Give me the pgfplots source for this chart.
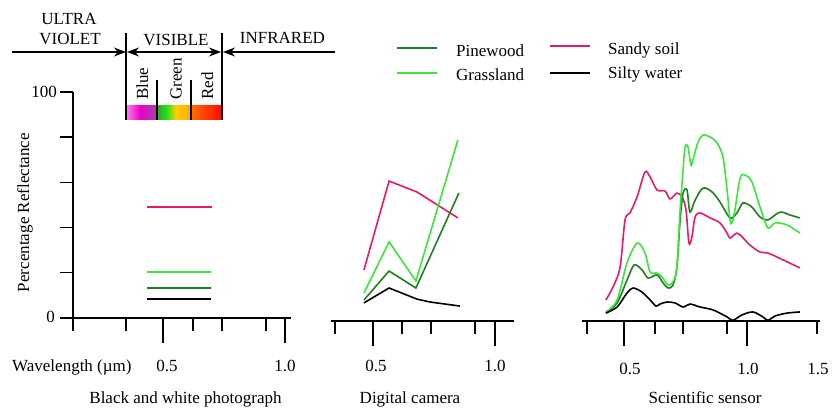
\documentclass[border=0pt]{standalone}
\usepackage{fontspec}
\setmainfont{Liberation Serif}
\usepackage{pgfplots}
\pgfplotsset{compat=1.18}
\usetikzlibrary{arrows.meta}
\definecolor{pine}{RGB}{30,128,30}
\definecolor{grass}{RGB}{60,230,60}
\definecolor{sandy}{RGB}{230,25,110}
\begin{document}
\begin{tikzpicture}[font=\fontsize{17bp}{20bp}\selectfont]
\path[use as bounding box] (0,0) rectangle (832bp,409bp);
\pgfplotsset{panel/.style={scale only axis, height=226bp, ymin=0, ymax=100, clip=false,
  anchor=south west, axis x line*=bottom, tick align=outside,
  major tick length=25bp, minor tick length=13bp,
  axis line style={line width=1.4bp, black},
  major tick style={line width=1.4bp, black}, minor tick style={line width=1.4bp, black},
  xtick={0.5,1.0}, xticklabels={,,,}, yticklabels={,,,,,,,},
  every axis plot/.append style={line width=1.6bp, no markers}}}

% ---- Panel 1: y axis with its short ticks
\begin{axis}[scale only axis, height=226bp, width=218bp, ymin=0, ymax=100, xmin=0.131, xmax=1.025,
  anchor=south west, at={(73bp,91bp)}, axis x line=none, axis y line*=left, tick align=outside,
  major tick length=13bp, axis line style={line width=1.4bp, black},
  major tick style={line width=1.4bp, black},
  ytick={0,20,40,60,80,100}, yticklabels={,,,,,,,}]
\end{axis}
% ---- Panel 1: Black and white photograph
\begin{axis}[panel, at={(73bp,91bp)}, width=218bp, xmin=0.131, xmax=1.025,
  axis y line=none, minor xtick={0.131,0.348,0.623,0.742,0.922}]
\addplot[sandy] coordinates {(0.434,49.1)(0.700,49.1)};
\addplot[grass] coordinates {(0.434,20.4)(0.697,20.4)};
\addplot[pine] coordinates {(0.434,13.3)(0.697,13.3)};
\addplot[black] coordinates {(0.434,8.4)(0.697,8.4)};
\end{axis}

% ---- Panel 2: Digital camera
\begin{axis}[panel, at={(331bp,88bp)}, width=183bp, xmin=0.328, xmax=1.078,
  axis y line=none, minor xtick={0.344,0.619,0.738,0.918}]
\addplot[sandy] coordinates {(0.463,22.6)(0.566,61.9)(0.680,57.1)(0.848,45.6)};
\addplot[grass] coordinates {(0.463,12.4)(0.566,35.0)(0.676,17.7)(0.848,80.1)};
\addplot[pine] coordinates {(0.463,9.3)(0.566,22.1)(0.676,14.6)(0.852,56.6)};
\addplot[black] coordinates {(0.463,8.0)(0.566,14.6)(0.680,9.7)(0.734,8.4)(0.857,6.6)};
\end{axis}

% ---- Panel 3: Scientific sensor
\begin{axis}[panel, at={(582bp,88bp)}, width=238bp, xmin=0.329, xmax=1.297,
  axis y line=none, minor xtick={0.350,0.626,0.740,0.919,1.285}]
\addplot[sandy, smooth, tension=0.5] coordinates {(0.426,9.3)(0.455,15.0)(0.484,23.9)(0.504,44.7)(0.524,47.8)(0.553,54.9)(0.585,65.9)(0.606,63.7)(0.634,58.0)(0.667,57.5)(0.687,54.0)(0.715,56.6)(0.736,54.9)(0.752,49.1)(0.764,34.5)(0.776,37.2)(0.789,46.0)(0.809,47.8)(0.850,45.6)(0.890,43.4)(0.919,38.9)(0.931,36.7)(0.959,38.9)(0.980,37.2)(1.012,33.6)(1.053,30.5)(1.085,30.1)(1.122,28.3)(1.215,23.5)};
\addplot[pine, smooth, tension=0.5] coordinates {(0.426,3.5)(0.472,8.0)(0.512,18.1)(0.541,24.8)(0.573,22.6)(0.598,19.0)(0.634,20.4)(0.659,16.8)(0.679,14.6)(0.699,15.9)(0.715,23.9)(0.728,44.7)(0.740,56.6)(0.756,58.0)(0.768,48.2)(0.789,53.5)(0.821,58.8)(0.858,57.1)(0.890,52.7)(0.931,45.6)(0.959,47.8)(0.984,52.2)(1.020,50.4)(1.053,46.0)(1.085,44.7)(1.134,48.2)(1.175,46.9)(1.215,45.6)};
\addplot[grass, smooth, tension=0.5] coordinates {(0.426,4.0)(0.472,9.3)(0.512,25.7)(0.553,34.5)(0.585,30.1)(0.606,21.7)(0.634,21.2)(0.654,19.5)(0.679,15.9)(0.699,17.3)(0.715,23.9)(0.728,49.1)(0.740,66.8)(0.748,77.0)(0.760,77.0)(0.772,69.0)(0.780,71.2)(0.801,79.2)(0.821,82.3)(0.850,81.4)(0.878,78.8)(0.902,72.6)(0.919,58.0)(0.931,44.7)(0.939,43.4)(0.951,49.1)(0.972,63.3)(0.992,64.6)(1.020,61.5)(1.053,50.4)(1.085,41.2)(1.114,43.4)(1.163,42.5)(1.215,38.9)};
\addplot[black, smooth, tension=0.5] coordinates {(0.426,3.5)(0.472,6.2)(0.512,12.4)(0.537,14.6)(0.573,12.8)(0.606,9.3)(0.630,6.6)(0.646,7.5)(0.675,8.4)(0.707,8.0)(0.740,6.2)(0.768,7.5)(0.809,6.2)(0.862,4.9)(0.919,1.8)(0.943,0.3)(0.980,2.7)(1.024,4.0)(1.065,1.8)(1.085,0.3)(1.114,2.2)(1.163,3.5)(1.215,4.0)};
\end{axis}

% ---- header: spectrum
\draw[line width=1.3bp, -{Stealth[length=12bp,width=9bp]}] (12bp,357bp) -- (126bp,357bp);
\draw[line width=1.3bp, {Stealth[length=12bp,width=9bp]}-{Stealth[length=12bp,width=9bp]}] (127bp,357bp) -- (221bp,357bp);
\draw[line width=1.3bp, -{Stealth[length=12bp,width=9bp]}] (335bp,357bp) -- (223bp,357bp);
\shade[left color={rgb,255:red,255;green,130;blue,240}, right color={rgb,255:red,235;green,0;blue,200}] (126bp,289bp) rectangle (140bp,303bp);
\shade[left color={rgb,255:red,235;green,0;blue,200}, right color={rgb,255:red,160;green,75;blue,160}] (140bp,289bp) rectangle (157bp,303bp);
\shade[left color={rgb,255:red,60;green,155;blue,60}, right color={rgb,255:red,30;green,225;blue,30}] (157bp,289bp) rectangle (166bp,303bp);
\shade[left color={rgb,255:red,30;green,225;blue,30}, right color={rgb,255:red,255;green,205;blue,0}] (166bp,289bp) rectangle (176bp,303bp);
\shade[left color={rgb,255:red,255;green,205;blue,0}, right color={rgb,255:red,255;green,170;blue,0}] (176bp,289bp) rectangle (191bp,303bp);
\shade[left color={rgb,255:red,255;green,110;blue,0}, right color={rgb,255:red,255;green,10;blue,0}] (191bp,289bp) rectangle (222bp,303bp);
\draw[line width=1.3bp] (126bp,376bp) -- (126bp,289bp);
\draw[line width=1.3bp] (222bp,376bp) -- (222bp,289bp);
\draw[line width=1.3bp] (157bp,329bp) -- (157bp,289bp);
\draw[line width=1.3bp] (191bp,329bp) -- (191bp,289bp);
\node[anchor=base, inner sep=0] at (69bp,384bp) {ULTRA};
\node[anchor=base, inner sep=0] at (70bp,364bp) {VIOLET};
\node[anchor=base, inner sep=0] at (176bp,363.5bp) {VISIBLE};
\node[anchor=base, inner sep=0] at (282.5bp,365.5bp) {INFRARED};
\node[rotate=90, anchor=base west, inner sep=0] at (148bp,309bp) {Blue};
\node[rotate=90, anchor=base west, inner sep=0] at (181.5bp,309bp) {Green};
\node[rotate=90, anchor=base west, inner sep=0] at (213bp,309bp) {Red};

% ---- legend
\draw[pine, line width=1.8bp] (397bp,361bp) -- (437bp,361bp);
\draw[grass, line width=1.8bp] (397bp,336bp) -- (437bp,336bp);
\draw[sandy, line width=1.8bp] (550bp,363bp) -- (590bp,363bp);
\draw[black, line width=1.8bp] (550bp,336bp) -- (590bp,336bp);
\node[anchor=base west, inner sep=0] at (456bp,352bp) {Pinewood};
\node[anchor=base west, inner sep=0] at (456bp,328bp) {Grassland};
\node[anchor=base west, inner sep=0] at (608bp,354bp) {Sandy soil};
\node[anchor=base west, inner sep=0] at (608bp,330bp) {Silty water};

% ---- axis texts
\node[rotate=90, anchor=base, inner sep=0] at (29bp,196.5bp) {Percentage Reflectance};
\node[anchor=base east, inner sep=0] at (57bp,311bp) {100};
\node[anchor=base east, inner sep=0] at (55bp,86bp) {0};
\node[anchor=base west, inner sep=0] at (12bp,37.5bp) {Wavelength (µm)};
\node[anchor=base, inner sep=0] at (167bp,38bp) {0.5};
\node[anchor=base, inner sep=0] at (285bp,38bp) {1.0};
\node[anchor=base, inner sep=0] at (376bp,38bp) {0.5};
\node[anchor=base, inner sep=0] at (495bp,38bp) {1.0};
\node[anchor=base, inner sep=0] at (630bp,35bp) {0.5};
\node[anchor=base, inner sep=0] at (748bp,35bp) {1.0};
\node[anchor=base, inner sep=0] at (818bp,35bp) {1.5};
\node[anchor=base, inner sep=0] at (185.5bp,5.5bp) {Black and white photograph};
\node[anchor=base, inner sep=0] at (410bp,5.5bp) {Digital camera};
\node[anchor=base, inner sep=0] at (705bp,5.5bp) {Scientific sensor};
\end{tikzpicture}
\end{document}
